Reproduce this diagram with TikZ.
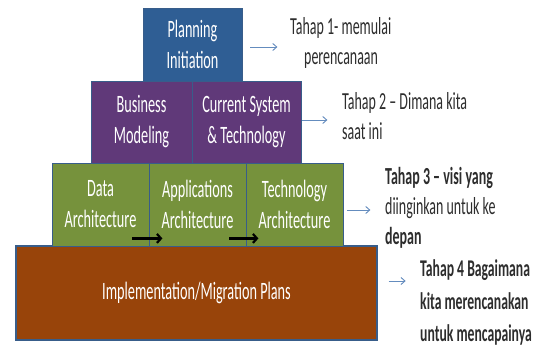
\documentclass[tikz,border=0pt]{standalone}
\usepackage{fontspec}
\usetikzlibrary{arrows.meta}
\newfontfamily\cf[FakeStretch=0.57]{Carlito}
\definecolor{cblue}{RGB}{47,94,148}
\definecolor{cpurple}{RGB}{96,57,121}
\definecolor{cgreen}{RGB}{118,146,60}
\definecolor{cbrown}{RGB}{152,68,10}
\definecolor{cedge}{RGB}{56,93,138}
\definecolor{carrow}{RGB}{100,140,190}
\definecolor{ctext}{RGB}{45,45,45}
\tikzset{
  boxstyle/.style={draw=cedge, line width=0.8pt, inner sep=0pt, align=center, text=white,
    font=\cf\fontsize{25}{31}\selectfont},
  sidetext/.style={anchor=west, inner sep=0pt, align=left, text=ctext,
    font=\cf\fontsize{24.5}{30}\selectfont},
  barrow/.style={draw=carrow, line width=0.9pt, -{Straight Barb[length=4pt,width=7pt]}},
  karrow/.style={draw=black, line width=2.2pt, -{Straight Barb[length=4pt,width=9pt]}}
}
\begin{document}
\begin{tikzpicture}[x=1pt,y=-1pt]
\useasboundingbox[fill=white] (0,0) rectangle (540,351);
% boxes
\node[boxstyle, fill=cbrown, minimum width=361pt, minimum height=94pt, line width=1.3pt] (impl) at (196.5,293) {Implementation/Migration Plans};
\node[boxstyle, fill=cgreen, minimum width=97pt, minimum height=83pt] (data) at (100.5,204.5) {Data\\Architecture};
\node[boxstyle, fill=cgreen, minimum width=97pt, minimum height=83pt] (appl) at (197.5,204.5) {Applications\\Architecture};
\node[boxstyle, fill=cgreen, minimum width=97pt, minimum height=83pt] (tech) at (294.5,204.5) {Technology\\Architecture};
\node[boxstyle, fill=cpurple, minimum width=101pt, minimum height=82pt] (bus) at (141.5,122) {Business\\Modeling};
\node[boxstyle, fill=cpurple, minimum width=109pt, minimum height=82pt] (cur) at (246.5,122) {Current System\\\& Technology};
\node[boxstyle, fill=cblue, minimum width=99pt, minimum height=73pt] (plan) at (192.5,44.5) {Planning\\Initiation};
% side texts
\node[sidetext] (t1) at (290,42.5) {Tahap 1- memulai\\\hspace*{14pt}perencanaan};
\node[sidetext] (t2) at (342,116.5) {Tahap 2 – Dimana kita\\saat ini};
\node[sidetext] (t3) at (385,208) {{\bfseries Tahap 3 – visi yang}\\diinginkan untuk ke\\{\bfseries depan}};
\node[sidetext, font=\cf\bfseries\fontsize{24}{32.5}\selectfont] (t4) at (420,302.5) {Tahap 4 Bagaimana\\kita merencanakan\\untuk mencapainya};
% blue arrows
\draw[barrow] ([xshift=8pt,yshift=-2.5pt]plan.east) -- ++(27,0);
\draw[barrow] ([xshift=1pt,yshift=2pt]cur.east) -- ++(25,0);
\draw[barrow] ([xshift=4pt,yshift=-5.5pt]tech.east) -- ++(23,0);
\draw[barrow] ([xshift=11pt,yshift=12pt]impl.east) -- ++(17,0);
% black arrows
\draw[karrow] ([xshift=-17pt,yshift=8pt]data.south east) -- ([xshift=13pt,yshift=8pt]data.south east);
\draw[karrow] ([xshift=-17pt,yshift=8pt]appl.south east) -- ([xshift=12pt,yshift=8pt]appl.south east);
\end{tikzpicture}
\end{document}
